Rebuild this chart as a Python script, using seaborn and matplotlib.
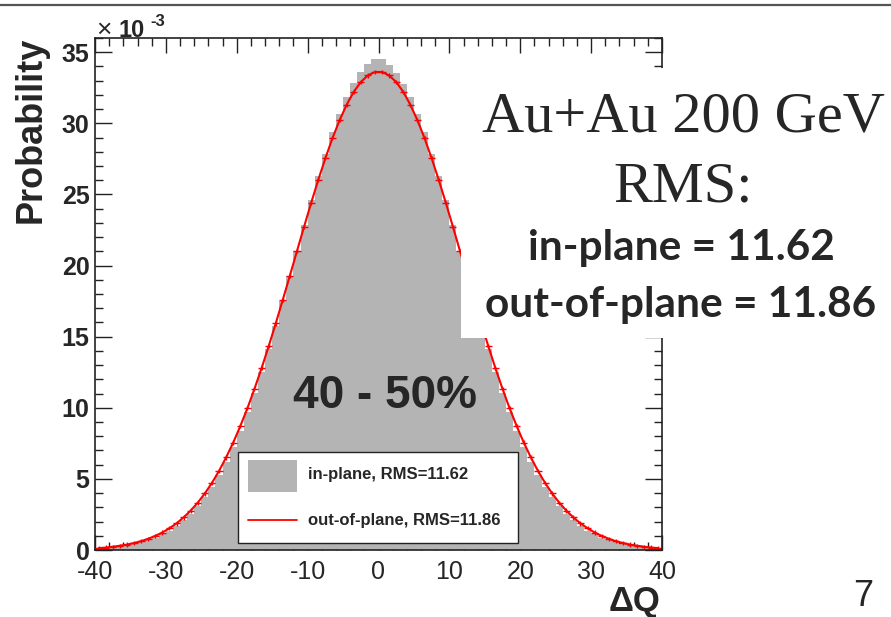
import numpy as np
import pandas as pd
import seaborn as sns
import matplotlib.pyplot as plt
from matplotlib.patches import Rectangle
from matplotlib.lines import Line2D
from matplotlib.ticker import MultipleLocator

# bin edges of delta Q histogram (-40..40, width 1)
edges = np.arange(-40, 41, 1)
centers = edges[:-1] + 0.5

# probabilities, units of 1e-3
in_plane = [0.11, 0.14, 0.19, 0.25, 0.32, 0.42, 0.54, 0.69, 0.87, 1.10,
            1.37, 1.70, 2.09, 2.55, 3.09, 3.72, 4.44, 5.27, 6.20, 7.24,
            8.40, 9.67, 11.04, 12.53, 14.10, 15.76, 17.48, 19.25, 21.04, 22.82,
            24.58, 26.27, 27.87, 29.36, 30.69, 31.85, 32.81, 33.60, 34.15, 34.55,
            34.50, 34.10, 33.55, 32.80, 31.85, 30.69, 29.36, 27.87, 26.27, 24.58,
            22.82, 21.04, 19.25, 17.48, 15.76, 14.10, 12.53, 11.04, 9.67, 8.40,
            7.24, 6.20, 5.27, 4.44, 3.72, 3.09, 2.55, 2.09, 1.70, 1.37,
            1.10, 0.87, 0.69, 0.54, 0.42, 0.32, 0.25, 0.19, 0.14, 0.11]
out_plane = [0.13, 0.17, 0.23, 0.30, 0.38, 0.49, 0.62, 0.79, 0.99, 1.23,
             1.53, 1.87, 2.29, 2.77, 3.33, 3.98, 4.72, 5.56, 6.51, 7.55,
             8.71, 9.96, 11.33, 12.78, 14.32, 15.93, 17.60, 19.30, 21.02, 22.73,
             24.41, 26.02, 27.54, 28.95, 30.21, 31.30, 32.21, 32.90, 33.37, 33.61,
             33.61, 33.37, 32.90, 32.21, 31.30, 30.21, 28.95, 27.54, 26.02, 24.41,
             22.73, 21.02, 19.30, 17.60, 15.93, 14.32, 12.78, 11.33, 9.96, 8.71,
             7.55, 6.51, 5.56, 4.72, 3.98, 3.33, 2.77, 2.29, 1.87, 1.53,
             1.23, 0.99, 0.79, 0.62, 0.49, 0.38, 0.30, 0.23, 0.17, 0.13]
out_err = 0.15

legend_labels = ['in-plane, RMS=11.62', 'out-of-plane, RMS=11.86']
box_lines = ['Au+Au 200 GeV', 'RMS:', 'in-plane = 11.62', 'out-of-plane = 11.86']
centrality = '40 - 50%'

df = pd.DataFrame({'dq': centers, 'in_plane': in_plane, 'out_plane': out_plane})

W, H = 891, 617
GRAY = '#b4b4b4'


def px(x, y):
    return x / W, 1 - y / H


sns.set_style('ticks')
plt.rcParams['font.family'] = ['Liberation Sans', 'DejaVu Sans']
plt.rcParams['axes.unicode_minus'] = False

fig = plt.figure(figsize=(W / 100, H / 100), dpi=100)
ax = fig.add_axes([95 / W, 1 - 550 / H, (662 - 95) / W, (550 - 38) / H])

sns.histplot(data=df, x='dq', weights='in_plane', bins=list(edges), element='step', fill=True,
             color=GRAY, alpha=1, linewidth=0, ax=ax)
sns.lineplot(data=df, x='dq', y='out_plane', color='red', lw=1.5, ax=ax, zorder=3)
ax.errorbar(df['dq'], df['out_plane'], yerr=out_err, xerr=0.5, fmt='none',
            ecolor='red', elinewidth=1.0, zorder=3)

ax.set_xlim(-40, 40)
ax.set_ylim(0, 36)
ax.xaxis.set_major_locator(MultipleLocator(10))
ax.xaxis.set_minor_locator(MultipleLocator(2))
ax.yaxis.set_major_locator(MultipleLocator(5))
ax.yaxis.set_minor_locator(MultipleLocator(1))
ax.set_xlabel('')
ax.set_ylabel('')
for s in ax.spines.values():
    s.set_visible(True)
    s.set_linewidth(1.2)
    s.set_color('#222222')
    s.set_zorder(5)
ax.tick_params(which='both', direction='in', top=True, right=True, color='#222222', width=1.0)
ax.tick_params(axis='x', which='major', length=11, pad=7, labelsize=18)
ax.tick_params(axis='x', which='minor', length=5.5)
ax.tick_params(axis='y', which='major', length=12, pad=4, labelsize=18)
ax.tick_params(axis='y', which='minor', length=6)
for lab in ax.get_yticklabels():
    lab.set_fontweight('bold')

# legend box, drawn by hand in axes fraction
ax.add_patch(Rectangle((0.252, 0.0137), 0.494, 0.177, transform=ax.transAxes,
                       facecolor='white', edgecolor='#222222', lw=1.0, zorder=6))
ax.add_patch(Rectangle(((248 - 95) / 567, (550 - 492) / 512), 49 / 567, 32 / 512,
                       transform=ax.transAxes, facecolor=GRAY, edgecolor='none', zorder=7))
ax.add_line(Line2D([(248 - 95) / 567, (297 - 95) / 567], [(550 - 520) / 512] * 2,
                   transform=ax.transAxes, color='red', lw=1.3, zorder=7))
ax.text((308 - 95) / 567, (550 - 475) / 512, legend_labels[0], transform=ax.transAxes,
        fontsize=12, fontweight='bold', va='center', ha='left', zorder=7)
ax.text((308 - 95) / 567, (550 - 520) / 512, legend_labels[1], transform=ax.transAxes,
        fontsize=12, fontweight='bold', va='center', ha='left', zorder=7)

ax.text(0.9, 10, centrality, fontsize=33, fontweight='bold', ha='center', va='baseline', zorder=4)

# axis titles and exponent
fig.text(*px(31, 37), 'Probability', rotation=90, ha='center', va='top',
         fontsize=26, fontweight='bold')
fig.text(*px(660, 611), 'ΔQ', ha='right', va='baseline', fontsize=25, fontweight='bold')
fig.text(*px(96, 37), '×', ha='left', va='baseline', fontsize=19)
fig.text(*px(119, 37), '10', ha='left', va='baseline', fontsize=17, fontweight='bold')
fig.text(*px(150, 26), '-3', ha='left', va='baseline', fontsize=12, fontweight='bold')

# white overlay box from the slide
fig.add_artist(Rectangle(px(461, 338), (W - 461) / W, (338 - 68) / H, transform=fig.transFigure,
                         facecolor='white', edgecolor='none', zorder=10))
fig.text(*px(683, 132), box_lines[0], ha='center', va='baseline', fontsize=42,
         family='Liberation Serif', zorder=11)
fig.text(*px(683, 202), box_lines[1], ha='center', va='baseline', fontsize=42,
         family='Liberation Serif', zorder=11)
fig.text(*px(681, 260), box_lines[2], ha='center', va='baseline', fontsize=30.5,
         family='Lato', fontweight='bold', zorder=11)
fig.text(*px(681, 317), box_lines[3], ha='center', va='baseline', fontsize=30.5,
         family='Lato', fontweight='bold', zorder=11)

# slide decorations
fig.add_artist(Line2D([0, 1], [1 - 5 / H] * 2, transform=fig.transFigure, color='#555555', lw=1.6))
fig.text(*px(863, 606), '7', ha='center', va='baseline', fontsize=26)

fig.savefig('out.png', dpi=100)
